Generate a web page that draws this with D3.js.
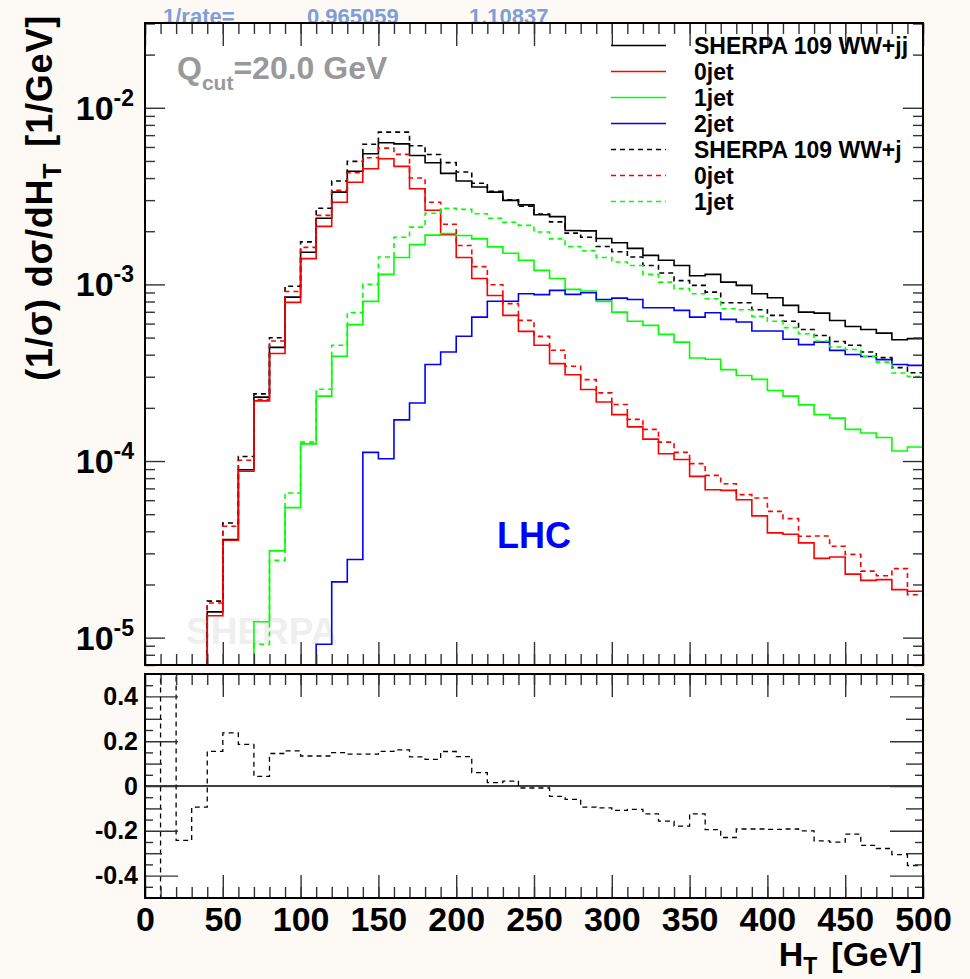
<!DOCTYPE html>
<html>
<head>
<meta charset="utf-8">
<script src="https://cdn.jsdelivr.net/npm/d3@7"></script>
<style>
  body { margin: 0; background: #fdfaf6; }
  svg { display: block; font-family: "Liberation Sans", Arial, Helvetica, sans-serif; font-weight: bold; }
</style>
</head>
<body>
<svg id="chart" width="970" height="979"></svg>
<script>

/* lower bin edges of the H_T histograms [GeV], bins are 10 GeV wide */
const htBins = [
    0, 10, 20, 30, 40, 50, 60, 70, 80, 90,
    100, 110, 120, 130, 140, 150, 160, 170, 180, 190,
    200, 210, 220, 230, 240, 250, 260, 270, 280, 290,
    300, 310, 320, 330, 340, 350, 360, 370, 380, 390,
    400, 410, 420, 430, 440, 450, 460, 470, 480, 490
];
const binWidth = 10;

/* SHERPA 109 WW+jj, (1/sigma) dsigma/dHT */
const jjTotal = [
    0, 0, 0, 0, 1.40e-5, 3.59e-5, 8.93e-5, 2.30e-4, 4.40e-4, 8.47e-4,
    1.52e-3, 2.37e-3, 3.33e-3, 4.37e-3, 5.49e-3, 6.34e-3, 6.25e-3, 5.37e-3, 4.88e-3, 4.25e-3,
    3.85e-3, 3.56e-3, 3.33e-3, 2.99e-3, 2.82e-3, 2.48e-3, 2.42e-3, 2.02e-3, 2.01e-3, 1.82e-3,
    1.72e-3, 1.60e-3, 1.46e-3, 1.37e-3, 1.28e-3, 1.12e-3, 1.14e-3, 1.03e-3, 9.87e-4, 8.85e-4,
    8.41e-4, 7.61e-4, 6.97e-4, 6.88e-4, 6.25e-4, 5.78e-4, 5.56e-4, 5.30e-4, 4.86e-4, 4.93e-4
];
const jjZero = [
    0, 0, 0, 0, 1.33e-5, 3.56e-5, 8.75e-5, 2.19e-4, 4.06e-4, 7.91e-4,
    1.40e-3, 2.13e-3, 2.92e-3, 3.79e-3, 4.52e-3, 5.15e-3, 4.66e-3, 3.48e-3, 2.63e-3, 1.91e-3,
    1.42e-3, 1.08e-3, 8.66e-4, 6.68e-4, 5.42e-4, 4.52e-4, 3.56e-4, 3.08e-4, 2.54e-4, 2.16e-4,
    1.83e-4, 1.56e-4, 1.33e-4, 1.10e-4, 1.02e-4, 8.19e-5, 6.88e-5, 6.82e-5, 6.04e-5, 4.89e-5,
    3.92e-5, 3.85e-5, 3.44e-5, 2.81e-5, 2.86e-5, 2.29e-5, 2.11e-5, 2.13e-5, 1.87e-5, 1.83e-5
];
const jjOne = [
    0, 0, 0, 0, 0, 0, 0, 1.23e-5, 3.10e-5, 5.45e-5,
    1.25e-4, 2.33e-4, 3.92e-4, 5.92e-4, 8.01e-4, 1.14e-3, 1.42e-3, 1.68e-3, 1.90e-3, 1.94e-3,
    1.89e-3, 1.81e-3, 1.63e-3, 1.50e-3, 1.37e-3, 1.20e-3, 1.08e-3, 9.37e-4, 9.17e-4, 8.01e-4,
    6.97e-4, 6.19e-4, 5.86e-4, 5.21e-4, 4.71e-4, 3.83e-4, 3.77e-4, 3.29e-4, 3.05e-4, 2.90e-4,
    2.51e-4, 2.33e-4, 2.08e-4, 1.83e-4, 1.75e-4, 1.51e-4, 1.44e-4, 1.36e-4, 1.14e-4, 1.20e-4
];
const jjTwo = [
    0, 0, 0, 0, 0, 0, 0, 0, 0, 0,
    0, 9.18e-6, 2.07e-5, 2.77e-5, 1.12e-4, 1.03e-4, 1.71e-4, 2.13e-4, 3.52e-4, 4.14e-4,
    5.09e-4, 6.53e-4, 8.03e-4, 8.03e-4, 8.86e-4, 8.75e-4, 9.25e-4, 8.78e-4, 8.97e-4, 8.22e-4,
    8.36e-4, 8.22e-4, 7.38e-4, 7.38e-4, 7.13e-4, 6.53e-4, 6.91e-4, 6.34e-4, 6.12e-4, 5.45e-4,
    5.45e-4, 4.89e-4, 4.56e-4, 4.71e-4, 4.23e-4, 4.01e-4, 3.91e-4, 3.75e-4, 3.52e-4, 3.48e-4
];

/* SHERPA 109 WW+j */
const jTotal = [
    0, 0, 0, 0, 1.61e-5, 4.46e-5, 1.06e-4, 2.40e-4, 4.99e-4, 9.77e-4,
    1.74e-3, 2.70e-3, 3.85e-3, 4.97e-3, 6.22e-3, 7.28e-3, 7.28e-3, 6.10e-3, 5.44e-3, 4.89e-3,
    4.33e-3, 3.74e-3, 3.37e-3, 3.01e-3, 2.77e-3, 2.50e-3, 2.26e-3, 1.95e-3, 1.85e-3, 1.64e-3,
    1.53e-3, 1.43e-3, 1.28e-3, 1.16e-3, 1.05e-3, 9.87e-4, 9.04e-4, 7.87e-4, 7.87e-4, 7.19e-4,
    6.68e-4, 6.18e-4, 5.56e-4, 5.14e-4, 4.75e-4, 4.52e-4, 4.14e-4, 3.85e-4, 3.38e-4, 3.16e-4
];
const jZero = [
    0, 0, 0, 0, 1.57e-5, 4.27e-5, 1.01e-4, 2.23e-4, 4.78e-4, 9.12e-4,
    1.62e-3, 2.46e-3, 3.41e-3, 4.29e-3, 5.21e-3, 5.91e-3, 5.45e-3, 4.00e-3, 2.92e-3, 2.19e-3,
    1.66e-3, 1.26e-3, 9.96e-4, 7.78e-4, 6.26e-4, 5.08e-4, 4.24e-4, 3.44e-4, 2.89e-4, 2.43e-4,
    2.09e-4, 1.72e-4, 1.51e-4, 1.28e-4, 1.12e-4, 9.66e-5, 8.29e-5, 7.44e-5, 6.45e-5, 6.18e-5,
    5.19e-5, 4.72e-5, 3.75e-5, 3.76e-5, 3.29e-5, 2.96e-5, 2.38e-5, 2.24e-5, 2.46e-5, 1.75e-5
];
const jOne = [
    0, 0, 0, 0, 0, 0, 0, 9.18e-6, 2.74e-5, 6.59e-5,
    1.28e-4, 2.55e-4, 4.52e-4, 6.92e-4, 1.00e-3, 1.43e-3, 1.85e-3, 2.11e-3, 2.53e-3, 2.70e-3,
    2.66e-3, 2.51e-3, 2.37e-3, 2.25e-3, 2.16e-3, 1.98e-3, 1.81e-3, 1.64e-3, 1.55e-3, 1.42e-3,
    1.34e-3, 1.28e-3, 1.14e-3, 1.03e-3, 9.46e-4, 8.86e-4, 8.29e-4, 7.28e-4, 7.19e-4, 6.59e-4,
    6.18e-4, 5.69e-4, 5.26e-4, 4.78e-4, 4.42e-4, 4.28e-4, 3.91e-4, 3.63e-4, 3.15e-4, 3.01e-4
];

/* lower pad: (WW+j) / (WW+jj) - 1 */
const ratioValues = [
    -1.0, 0.8, -0.243, -0.094, 0.155, 0.237, 0.186, 0.043, 0.145, 0.157,
    0.134, 0.134, 0.149, 0.142, 0.142, 0.155, 0.161, 0.130, 0.119, 0.154,
    0.131, 0.060, 0.015, 0.022, -0.009, -0.009, -0.046, -0.060, -0.094, -0.098,
    -0.109, -0.104, -0.124, -0.157, -0.179, -0.124, -0.195, -0.230, -0.192, -0.192,
    -0.194, -0.192, -0.200, -0.245, -0.251, -0.215, -0.265, -0.279, -0.306, -0.355
];

/* ticks and labels */
const xMajorTicks = [0, 50, 100, 150, 200, 250, 300, 350, 400, 450, 500];
const xMinorTicks = [0, 10, 20, 30, 40, 50, 60, 70, 80, 90, 100, 110, 120, 130, 140, 150, 160, 170, 180, 190,
    200, 210, 220, 230, 240, 250, 260, 270, 280, 290, 300, 310, 320, 330, 340, 350, 360, 370, 380, 390,
    400, 410, 420, 430, 440, 450, 460, 470, 480, 490, 500];
const yDecades = [1e-5, 1e-4, 1e-3, 1e-2];
const ratioMajor = [-0.4, -0.2, 0, 0.2, 0.4];
const ratioMid = [-0.3, -0.1, 0.1, 0.3];
const ratioMinor = [-0.45, -0.35, -0.25, -0.15, -0.05, 0.05, 0.15, 0.25, 0.35, 0.45];

const legendLabels = ["SHERPA 109 WW+jj", "0jet", "1jet", "2jet", "SHERPA 109 WW+j", "0jet", "1jet"];
const rateLabels = ["1/rate=", "0.965059", "1.10837"];

/* histograms in drawing (= legend) order */
const series = [
    { values: jjTotal, color: "#000000", dash: null },
    { values: jjZero, color: "#ff0000", dash: null },
    { values: jjOne, color: "#00ff00", dash: null },
    { values: jjTwo, color: "#0000ff", dash: null },
    { values: jTotal, color: "#000000", dash: "5,4" },
    { values: jZero, color: "#ff0000", dash: "5,4" },
    { values: jOne, color: "#00ff00", dash: "5,4" }
];

/* pad geometry */
const padLeft = 145, padRight = 923;
const topPad = { top: 23, bottom: 665 };
const lowPad = { top: 674, bottom: 898 };

const svg = d3.select("#chart");

const x = d3.scaleLinear().domain([0, 500]).range([padLeft, padRight]);
const y = d3.scaleLog().domain([7.0e-6, 0.0302]).range([topPad.bottom, topPad.top]);
const r = d3.scaleLinear().domain([-0.5, 0.5]).range([lowPad.bottom, lowPad.top]);

/* 1/rate line above the frame, partly hidden by it */
const rateX = [163, 307, 469];
svg.selectAll("text.rate")
    .data(rateLabels)
    .enter()
    .append("text")
    .attr("class", "rate")
    .attr("x", (d, i) => rateX[i])
    .attr("y", 24)
    .style("font-size", "22px")
    .attr("fill", "#7f9dd6")
    .text(d => d);

/* pad backgrounds */
[topPad, lowPad].forEach(p => {
    svg.append("rect")
        .attr("x", padLeft).attr("y", p.top)
        .attr("width", padRight - padLeft).attr("height", p.bottom - p.top)
        .attr("fill", "#ffffff");
});

/* clip paths */
const defs = svg.append("defs");
defs.append("clipPath").attr("id", "clipTop").append("rect")
    .attr("x", padLeft).attr("y", topPad.top)
    .attr("width", padRight - padLeft).attr("height", topPad.bottom - topPad.top);
defs.append("clipPath").attr("id", "clipLow").append("rect")
    .attr("x", padLeft).attr("y", lowPad.top)
    .attr("width", padRight - padLeft).attr("height", lowPad.bottom - lowPad.top);

/* faint SHERPA watermark */
svg.append("text")
    .attr("x", 186).attr("y", 644)
    .style("font-size", "37px")
    .attr("fill", "#efefef")
    .text("SHERPA");

/* turn bin contents into step points */
function stepPoints(values, floor) {
    let pts = [];
    values.forEach((v, i) => {
        let vv = Math.max(v, floor);
        pts.push([htBins[i], vv]);
        pts.push([htBins[i] + binWidth, vv]);
    });
    return pts;
}

const histTop = svg.append("g").attr("clip-path", "url(#clipTop)");
const topLine = d3.line().x(d => x(d[0])).y(d => y(d[1]));

series.forEach(s => {
    histTop.append("path")
        .datum(stepPoints(s.values, y.domain()[0]))
        .attr("d", topLine)
        .attr("fill", "none")
        .attr("stroke", s.color)
        .attr("stroke-width", 1.6)
        .attr("stroke-dasharray", s.dash);
});

/* lower pad: zero line and ratio */
const histLow = svg.append("g").attr("clip-path", "url(#clipLow)");
histLow.append("line")
    .attr("x1", x(0)).attr("x2", x(500))
    .attr("y1", r(0)).attr("y2", r(0))
    .attr("stroke", "#000").attr("stroke-width", 1.3);

histLow.append("path")
    .datum(stepPoints(ratioValues, -Infinity))
    .attr("d", d3.line().x(d => x(d[0])).y(d => r(d[1])))
    .attr("fill", "none")
    .attr("stroke", "#000")
    .attr("stroke-width", 1.3)
    .attr("stroke-dasharray", "5,4");

/* tick marks, all pointing into the pads */
function ticks(axis, tx, ty, values, size) {
    svg.append("g")
        .attr("transform", "translate(" + tx + "," + ty + ")")
        .attr("color", "#333")
        .call(axis.tickValues(values).tickSize(-size).tickFormat(""))
        .call(g => g.select(".domain").remove())
        .selectAll("line").attr("stroke-width", 1.4);
}

const logMinor = y.ticks().filter(d => !yDecades.some(k => Math.abs(d / k - 1) < 1e-6));

[topPad, lowPad].forEach(p => {
    ticks(d3.axisBottom(x), 0, p.bottom, xMajorTicks, 23);
    ticks(d3.axisBottom(x), 0, p.bottom, xMinorTicks, 11);
    ticks(d3.axisTop(x), 0, p.top, xMajorTicks, 23);
    ticks(d3.axisTop(x), 0, p.top, xMinorTicks, 11);
});

ticks(d3.axisLeft(y), padLeft, 0, yDecades, 20);
ticks(d3.axisLeft(y), padLeft, 0, logMinor, 10);
ticks(d3.axisRight(y), padRight, 0, yDecades, 20);
ticks(d3.axisRight(y), padRight, 0, logMinor, 10);

ticks(d3.axisLeft(r), padLeft, 0, ratioMajor, 33);
ticks(d3.axisLeft(r), padLeft, 0, ratioMid, 17);
ticks(d3.axisLeft(r), padLeft, 0, ratioMinor, 8);
ticks(d3.axisRight(r), padRight, 0, ratioMajor, 33);
ticks(d3.axisRight(r), padRight, 0, ratioMid, 17);
ticks(d3.axisRight(r), padRight, 0, ratioMinor, 8);

/* pad frames */
[topPad, lowPad].forEach(p => {
    svg.append("rect")
        .attr("x", padLeft).attr("y", p.top)
        .attr("width", padRight - padLeft).attr("height", p.bottom - p.top)
        .attr("fill", "none")
        .attr("stroke", "#000")
        .attr("stroke-width", 2);
});

/* x labels under the lower pad */
svg.append("g")
    .attr("transform", "translate(0," + lowPad.bottom + ")")
    .call(d3.axisBottom(x).tickValues(xMajorTicks).tickSize(0).tickPadding(9).tickFormat(d => d))
    .call(g => g.select(".domain").remove())
    .selectAll("text")
    .attr("fill", "#000")
    .style("font-size", "34px")
    .style("font-family", "'Liberation Sans', Arial, sans-serif")
    .style("font-weight", "bold");

/* log labels 10^n */
svg.selectAll("text.ylab")
    .data(yDecades)
    .enter()
    .append("text")
    .attr("class", "ylab")
    .attr("x", 134)
    .attr("y", d => y(d) + 12)
    .attr("text-anchor", "end")
    .style("font-size", "34px")
    .each(function(d) {
        let t = d3.select(this);
        t.append("tspan").text("10");
        t.append("tspan").attr("dy", -14).style("font-size", "23px").text(String(Math.round(Math.log10(d))));
    });

/* ratio labels */
svg.append("g")
    .attr("transform", "translate(" + padLeft + ",0)")
    .call(d3.axisLeft(r).tickValues(ratioMajor).tickSize(0).tickPadding(7)
        .tickFormat(d => d === 0 ? "0" : d.toFixed(1)))
    .call(g => g.select(".domain").remove())
    .selectAll("text")
    .attr("fill", "#000")
    .style("font-size", "25px")
    .style("font-family", "'Liberation Sans', Arial, sans-serif")
    .style("font-weight", "bold");

/* axis titles */
let yTitle = svg.append("text")
    .attr("transform", "translate(52,15) rotate(-90)")
    .attr("text-anchor", "end")
    .style("font-size", "36px")
    .style("letter-spacing", "0.8px");
yTitle.append("tspan").text("(1/σ) dσ/dH");
yTitle.append("tspan").attr("dy", 9).style("font-size", "25px").text("T");
yTitle.append("tspan").attr("dy", -9).attr("dx", 16).text("[1/GeV]");

let xTitle = svg.append("text")
    .attr("x", 922).attr("y", 966)
    .attr("text-anchor", "end")
    .style("font-size", "34px");
xTitle.append("tspan").text("H");
xTitle.append("tspan").attr("dy", 8).style("font-size", "23px").text("T");
xTitle.append("tspan").attr("dy", -8).attr("dx", 14).text("[GeV]");

/* Q_cut annotation */
let qcut = svg.append("text")
    .attr("x", 177).attr("y", 79)
    .attr("fill", "#999999")
    .style("font-size", "32px");
qcut.append("tspan").text("Q");
qcut.append("tspan").attr("dy", 11).style("font-size", "21px").text("cut");
qcut.append("tspan").attr("dy", -11).text("=20.0 GeV");

/* LHC */
svg.append("text")
    .attr("x", 497).attr("y", 548)
    .attr("fill", "#0000ff")
    .style("font-size", "36px")
    .text("LHC");

/* legend */
const legend = svg.append("g");
legendLabels.forEach((label, i) => {
    let ly = 45.5 + i * 26;
    legend.append("line")
        .attr("x1", 611).attr("x2", 666)
        .attr("y1", ly).attr("y2", ly)
        .attr("stroke", series[i].color)
        .attr("stroke-width", 1.6)
        .attr("stroke-dasharray", series[i].dash);
    legend.append("text")
        .attr("x", 694).attr("y", ly)
        .attr("dy", "0.36em")
        .style("font-size", "23px")
        .text(label);
});

</script>
</body>
</html>
